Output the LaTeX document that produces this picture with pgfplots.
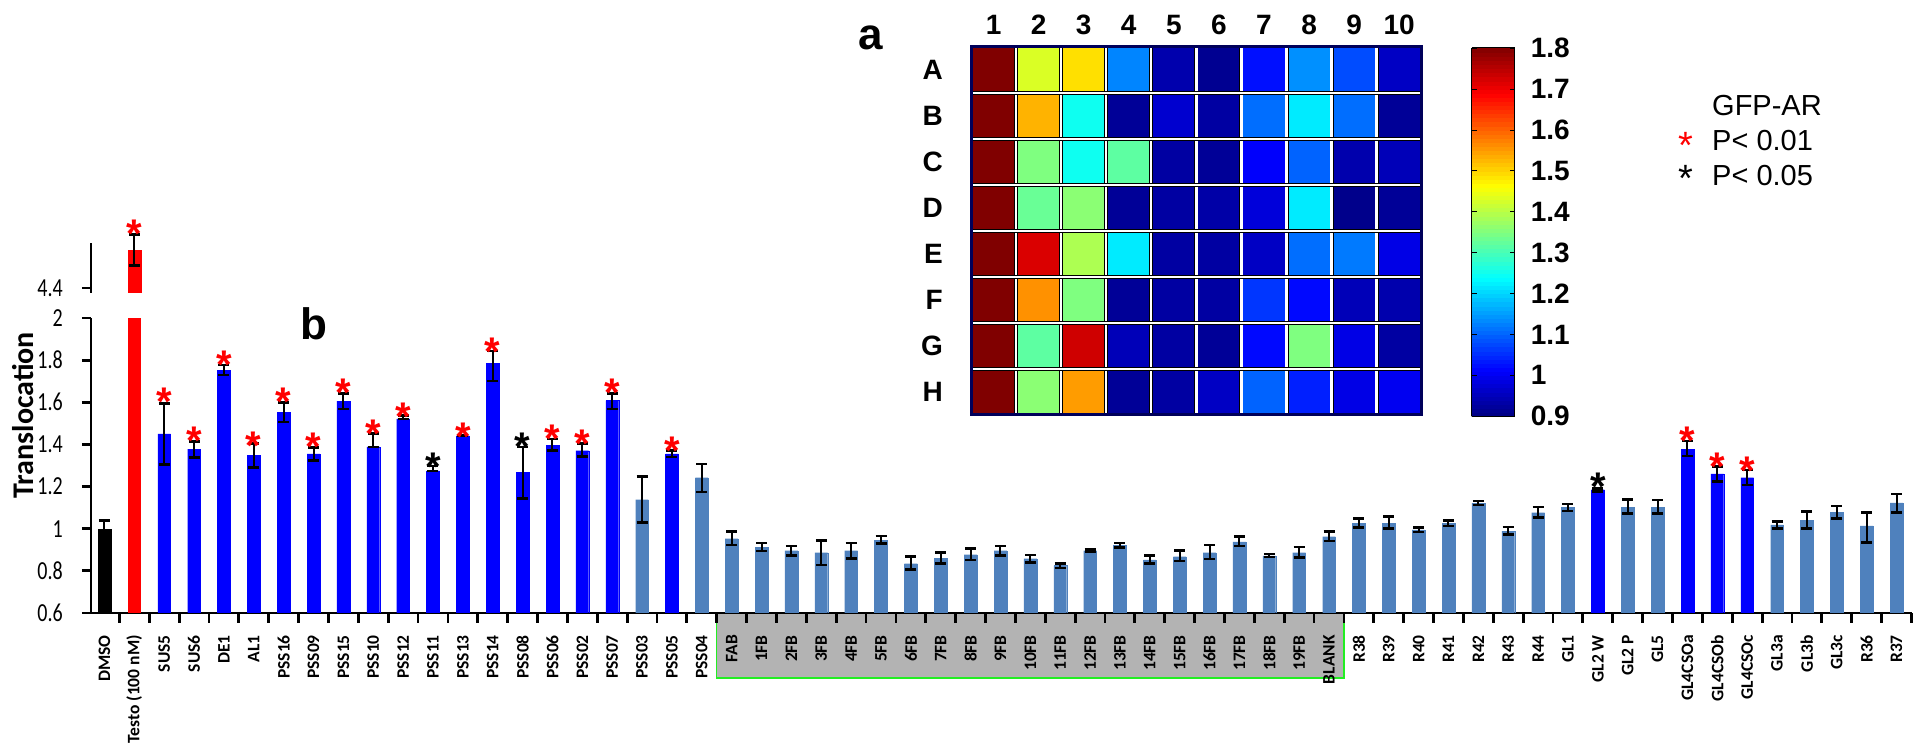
\documentclass[border=0pt]{standalone}
\usepackage{fontspec}
\setmainfont{Liberation Sans}
\newfontfamily\carlito{Carlito}
\usepackage{graphicx}
\usepackage{pgfplots}
\pgfplotsset{compat=1.18}
\usepackage{pgfplotstable}
\newcommand\fs[1]{\fontsize{#1}{#1}\selectfont}
\newcommand\vs[1]{\scalebox{1}[1.3]{#1}}
\definecolor{steel}{HTML}{4F81BD}
\definecolor{band}{HTML}{B3B3B3}
\definecolor{navy}{HTML}{00005A}
\definecolor{bandgreen}{HTML}{22EE22}

\pgfplotstableread{
x y ep em
1 1.000 0.040 0.040
}\dmso
\pgfplotstableread{
x y
2 2.0
}\testomain
\pgfplotstableread{
x y ep em
2 4.58 0.074 0.074
}\testoup
\pgfplotstableread{
x y ep em
3 1.450 0.145 0.144
4 1.378 0.037 0.040
5 1.752 0.025 0.022
6 1.347 0.057 0.057
7 1.552 0.048 0.045
8 1.355 0.030 0.032
9 1.605 0.038 0.037
10 1.388 0.063 0.000
11 1.521 0.016 0.000
12 1.274 0.024 0.000
13 1.440 0.005 0.000
14 1.785 0.058 0.084
15 1.268 0.120 0.124
16 1.396 0.030 0.026
17 1.370 0.034 0.028
18 1.608 0.035 0.040
20 1.355 0.015 0.015
51 1.185 0.007 0.007
54 1.378 0.038 0.033
55 1.260 0.034 0.037
56 1.242 0.037 0.035
}\sig
\pgfplotstableread{
x y ep em
19 1.138 0.111 0.109
21 1.242 0.065 0.068
22 0.953 0.033 0.030
23 0.913 0.019 0.019
24 0.896 0.022 0.022
25 0.886 0.059 0.058
26 0.896 0.036 0.036
27 0.946 0.019 0.016
28 0.834 0.033 0.027
29 0.860 0.028 0.024
30 0.877 0.028 0.025
31 0.896 0.022 0.022
32 0.858 0.017 0.017
33 0.825 0.011 0.011
34 0.896 0.006 0.006
35 0.920 0.012 0.008
36 0.852 0.022 0.016
37 0.867 0.029 0.020
38 0.886 0.037 0.030
39 0.938 0.024 0.020
40 0.871 0.009 0.006
41 0.886 0.027 0.022
42 0.962 0.024 0.020
43 1.026 0.023 0.020
44 1.026 0.031 0.024
45 0.994 0.011 0.010
46 1.026 0.013 0.013
47 1.121 0.010 0.008
48 0.989 0.019 0.016
49 1.076 0.027 0.022
50 1.101 0.016 0.016
52 1.101 0.039 0.030
53 1.101 0.035 0.030
57 1.018 0.016 0.016
58 1.041 0.040 0.040
59 1.078 0.030 0.030
60 1.014 0.064 0.080
61 1.123 0.042 0.045
}\nonsig
\pgfplotstableread{
x y
3 1.644
4 1.459
5 1.820
6 1.435
7 1.644
8 1.430
9 1.687
10 1.492
11 1.573
13 1.478
14 1.881
16 1.469
17 1.445
18 1.687
20 1.412
54 1.459
55 1.336
56 1.317
}\starsred
\pgfplotstableread{
x y
12 1.336
15 1.430
51 1.241
}\starsblack
\pgfplotstableread{
x y
2 4.699
}\starstesto
\pgfplotstableread{
x y c
1 1 1.80
2 1 1.43
3 1 1.49
4 1 1.13
5 1 0.94
6 1 0.915
7 1 1.026
8 1 1.14
9 1 1.08
10 1 0.96
1 2 1.80
2 2 1.53
3 2 1.25
4 2 0.92
5 2 0.97
6 2 0.93
7 2 1.11
8 2 1.22
9 2 1.11
10 2 0.92
1 3 1.80
2 3 1.35
3 3 1.25
4 3 1.32
5 3 0.93
6 3 0.92
7 3 1.01
8 3 1.10
9 3 0.94
10 3 0.95
1 4 1.80
2 4 1.33
3 4 1.36
4 4 0.92
5 4 0.93
6 4 0.935
7 4 0.98
8 4 1.22
9 4 0.91
10 4 0.92
1 5 1.80
2 5 1.72
3 5 1.39
4 5 1.22
5 5 0.93
6 5 0.93
7 5 0.96
8 5 1.11
9 5 1.12
10 5 0.99
1 6 1.80
2 6 1.56
3 6 1.35
4 6 0.92
5 6 0.93
6 6 0.93
7 6 1.06
8 6 1.02
9 6 0.95
10 6 0.94
1 7 1.80
2 7 1.32
3 7 1.73
4 7 0.95
5 7 0.93
6 7 0.92
7 7 1.02
8 7 1.35
9 7 0.99
10 7 0.93
1 8 1.80
2 8 1.36
3 8 1.55
4 8 0.92
5 8 0.93
6 8 0.96
7 8 1.10
8 8 1.04
9 8 0.99
10 8 1.00
}\heat

\pgfdeclareplotmark{cap}{%
  \pgfpathmoveto{\pgfqpoint{-\pgfplotmarksize}{0pt}}%
  \pgfpathlineto{\pgfqpoint{\pgfplotmarksize}{0pt}}%
  \pgfusepathqstroke}

\pgfplotsset{
  /pgf/number format/assume math mode=true,
  barstyle/.style={ybar, bar width=0.43, bar shift=0pt, fill=#1, draw=#1, line width=0.2pt,
    error bars/y dir=both, error bars/y explicit,
    error bars/error mark=none,
    error bars/error bar style={draw=black, line width=2pt}},
  capstyle/.style={only marks, mark=cap, mark size=5.5pt, forget plot,
    mark options={draw=black, line width=2.6pt}},
  starstyle/.style={only marks, mark=text, text mark as node=true,
    text mark={\raisebox{-0.56em}{*}},
    text mark style={font=\bfseries\fs{40}, text=#1, anchor=base, inner sep=0pt}},
}

\begin{document}
\begin{tikzpicture}
\path[use as bounding box] (0,0) rectangle (1923pt,744pt);

% grey band behind the FB labels
\begin{axis}[at={(91pt,131pt)}, anchor=south west, scale only axis,
  width=1821pt, height=295pt, xmin=0.55, xmax=61.52, ymin=0.6, ymax=2,
  hide axis, clip=false]
\addplot[fill=band, draw=bandgreen, line width=1.2pt] coordinates
  {(21.5,0.6) (21.5,0.2915) (42.5,0.2915) (42.5,0.6)};
\end{axis}

% main bar axis
\begin{axis}[at={(91pt,131pt)}, anchor=south west, scale only axis,
  width=1821pt, height=295pt, xmin=0.55, xmax=61.52, ymin=0.6, ymax=2,
  axis x line*=bottom, axis y line*=left,
  axis line style={-, line width=2.8pt, black},
  tick align=outside,
  xtick={1,...,61},
  xticklabels={DMSO, Testo (100 nM), SUS5, SUS6, DE1, AL1, PSS16, PSS09, PSS15, PSS10, PSS12, PSS11, PSS13, PSS14, PSS08, PSS06, PSS02, PSS07, PSS03, PSS05, PSS04, FAB, 1FB, 2FB, 3FB, 4FB, 5FB, 6FB, 7FB, 8FB, 9FB, 10FB, 11FB, 12FB, 13FB, 14FB, 15FB, 16FB, 17FB, 18FB, 19FB, BLANK, R38, R39, R40, R41, R42, R43, R44, GL1, GL2 W, GL2 P, GL5, GL4CSOa, GL4CSOb, GL4CSOc, GL3a, GL3b, GL3c, R36, R37},
  minor xtick={1.5,2.5,...,61.5},
  major x tick style={draw=none},
  minor x tick style={line width=2.8pt, black},
  major y tick style={line width=2.8pt, black},
  major tick length=9pt, minor tick length=10pt,
  xticklabel style={font=\carlito\bfseries\fs{17.5}, rotate=90, anchor=east, inner sep=0pt},
  xticklabel shift=13pt,
  ytick={0.6,0.8,1,1.2,1.4,1.6,1.8,2},
  yticklabels={\vs{0.6},\vs{0.8},\vs{1},\vs{1.2},\vs{1.4},\vs{1.6},\vs{1.8},\vs{2}},
  yticklabel style={font=\carlito\fs{20}, anchor=east, inner sep=0pt},
  yticklabel shift=19pt,
  ylabel={Translocation},
  every axis y label/.style={at={(axis description cs:-0.0374,0.67)}, rotate=90, anchor=center, font=\carlito\bfseries\fs{30}},
]
\addplot[barstyle=black] table[x=x, y=y, y error plus=ep, y error minus=em] {\dmso};
\addplot[ybar, bar width=0.43, bar shift=0pt, draw=none, fill=red] table[x=x, y=y] {\testomain};
\addplot[barstyle=blue] table[x=x, y=y, y error plus=ep, y error minus=em] {\sig};
\addplot[barstyle=steel] table[x=x, y=y, y error plus=ep, y error minus=em] {\nonsig};
% error bar caps
\addplot[capstyle] table[x=x, y expr=\thisrow{y}+\thisrow{ep}] {\dmso};
\addplot[capstyle] table[x=x, y expr=\thisrow{y}+\thisrow{ep}] {\sig};
\addplot[capstyle] table[x=x, y expr=\thisrow{y}-\thisrow{em}] {\sig};
\addplot[capstyle] table[x=x, y expr=\thisrow{y}+\thisrow{ep}] {\nonsig};
\addplot[capstyle] table[x=x, y expr=\thisrow{y}-\thisrow{em}] {\nonsig};
\addplot[starstyle=red] table[x=x, y=y] {\starsred};
\addplot[starstyle=black] table[x=x, y=y] {\starsblack};
\end{axis}

% upper (broken) axis part for Testo
\begin{axis}[at={(91pt,451pt)}, anchor=south west, scale only axis,
  width=1821pt, height=78.74pt, xmin=0.55, xmax=61.52, ymin=4.3763, ymax=4.75,
  axis x line=none, axis y line*=left,
  y axis line style={-, line width=2.8pt, black, shorten >=28.7pt},
  tick align=outside, major tick length=9pt,
  major y tick style={line width=2.8pt, black},
  ytick={4.4}, yticklabels={\vs{4.4}},
  yticklabel style={font=\carlito\fs{20}, anchor=east, inner sep=0pt},
  yticklabel shift=19pt,
]
\addplot[barstyle=red] table[x=x, y=y, y error plus=ep, y error minus=em] {\testoup};
\addplot[capstyle] table[x=x, y expr=\thisrow{y}+\thisrow{ep}] {\testoup};
\addplot[capstyle] table[x=x, y expr=\thisrow{y}-\thisrow{em}] {\testoup};
\addplot[starstyle=red] table[x=x, y=y] {\starstesto};
\end{axis}

% heat map (a)
\begin{axis}[at={(971pt,329pt)}, anchor=south west, scale only axis,
  width=450.7pt, height=368.3pt,
  xmin=0.5, xmax=10.5, ymin=0.5, ymax=8.5, y dir=reverse,
  axis on top,
  axis line style={draw=navy, line width=3pt},
  xtick={1,...,10}, ytick={1,...,8},
  yticklabels={A,B,C,D,E,F,G,H},
  xticklabel pos=upper,
  minor xtick={1.5,2.5,...,9.5}, minor ytick={1.5,2.5,...,7.5},
  xminorgrids=true, yminorgrids=true,
  minor grid style={draw=black, line width=0.8pt, double=white, double distance=2.4pt},
  major tick length=0pt, minor tick length=0pt,
  xticklabel style={font=\bfseries\fs{28}, inner sep=0pt, anchor=south},
  xticklabel shift=12pt,
  yticklabel style={font=\bfseries\fs{28}, inner sep=0pt, anchor=east},
  yticklabel shift=28pt,
  colormap/jet, point meta min=0.9, point meta max=1.8,
  colorbar sampled,
  colorbar style={at={(parent axis.north east)}, anchor=north west,
    xshift=41.3pt, yshift=-1.3pt, scale only axis, width=43pt, height=368.3pt,
    samples=91,
    ytick={0.9,1,1.1,1.2,1.3,1.4,1.5,1.6,1.7,1.8},
    yticklabels={0.9,1,1.1,1.2,1.3,1.4,1.5,1.6,1.7,1.8},
    yticklabel style={font=\bfseries\fs{28}, inner sep=0pt, anchor=west},
    yticklabel shift=16pt,
    tick align=inside, major tick length=5pt, ytick pos=both,
    major tick style={black, line width=0.6pt},
    axis line style={black, line width=1pt}},
]
\addplot[matrix plot*, mesh/cols=10, point meta=explicit] table[x=x, y=y, meta=c] {\heat};
\end{axis}

% panel letters
\node[font=\bfseries\fs{44}, anchor=base, inner sep=0pt] at (871pt,694pt) {a};
\node[font=\bfseries\fs{44}, anchor=base, inner sep=0pt] at (314pt,404pt) {b};

% significance key
\node[font=\fs{29}, anchor=base west, inner sep=0pt] at (1712pt,628.6pt) {GFP-AR};
\node[font=\fs{29}, anchor=base west, inner sep=0pt] at (1712pt,593.6pt) {P< 0.01};
\node[font=\fs{29}, anchor=base west, inner sep=0pt] at (1712pt,558.6pt) {P< 0.05};
\node[font=\fs{38}, text=red, anchor=base, inner sep=0pt] at (1686pt,607pt) {\raisebox{-0.56em}{*}};
\node[font=\fs{38}, text=black, anchor=base, inner sep=0pt] at (1686pt,574pt) {\raisebox{-0.56em}{*}};
\end{tikzpicture}
\end{document}
